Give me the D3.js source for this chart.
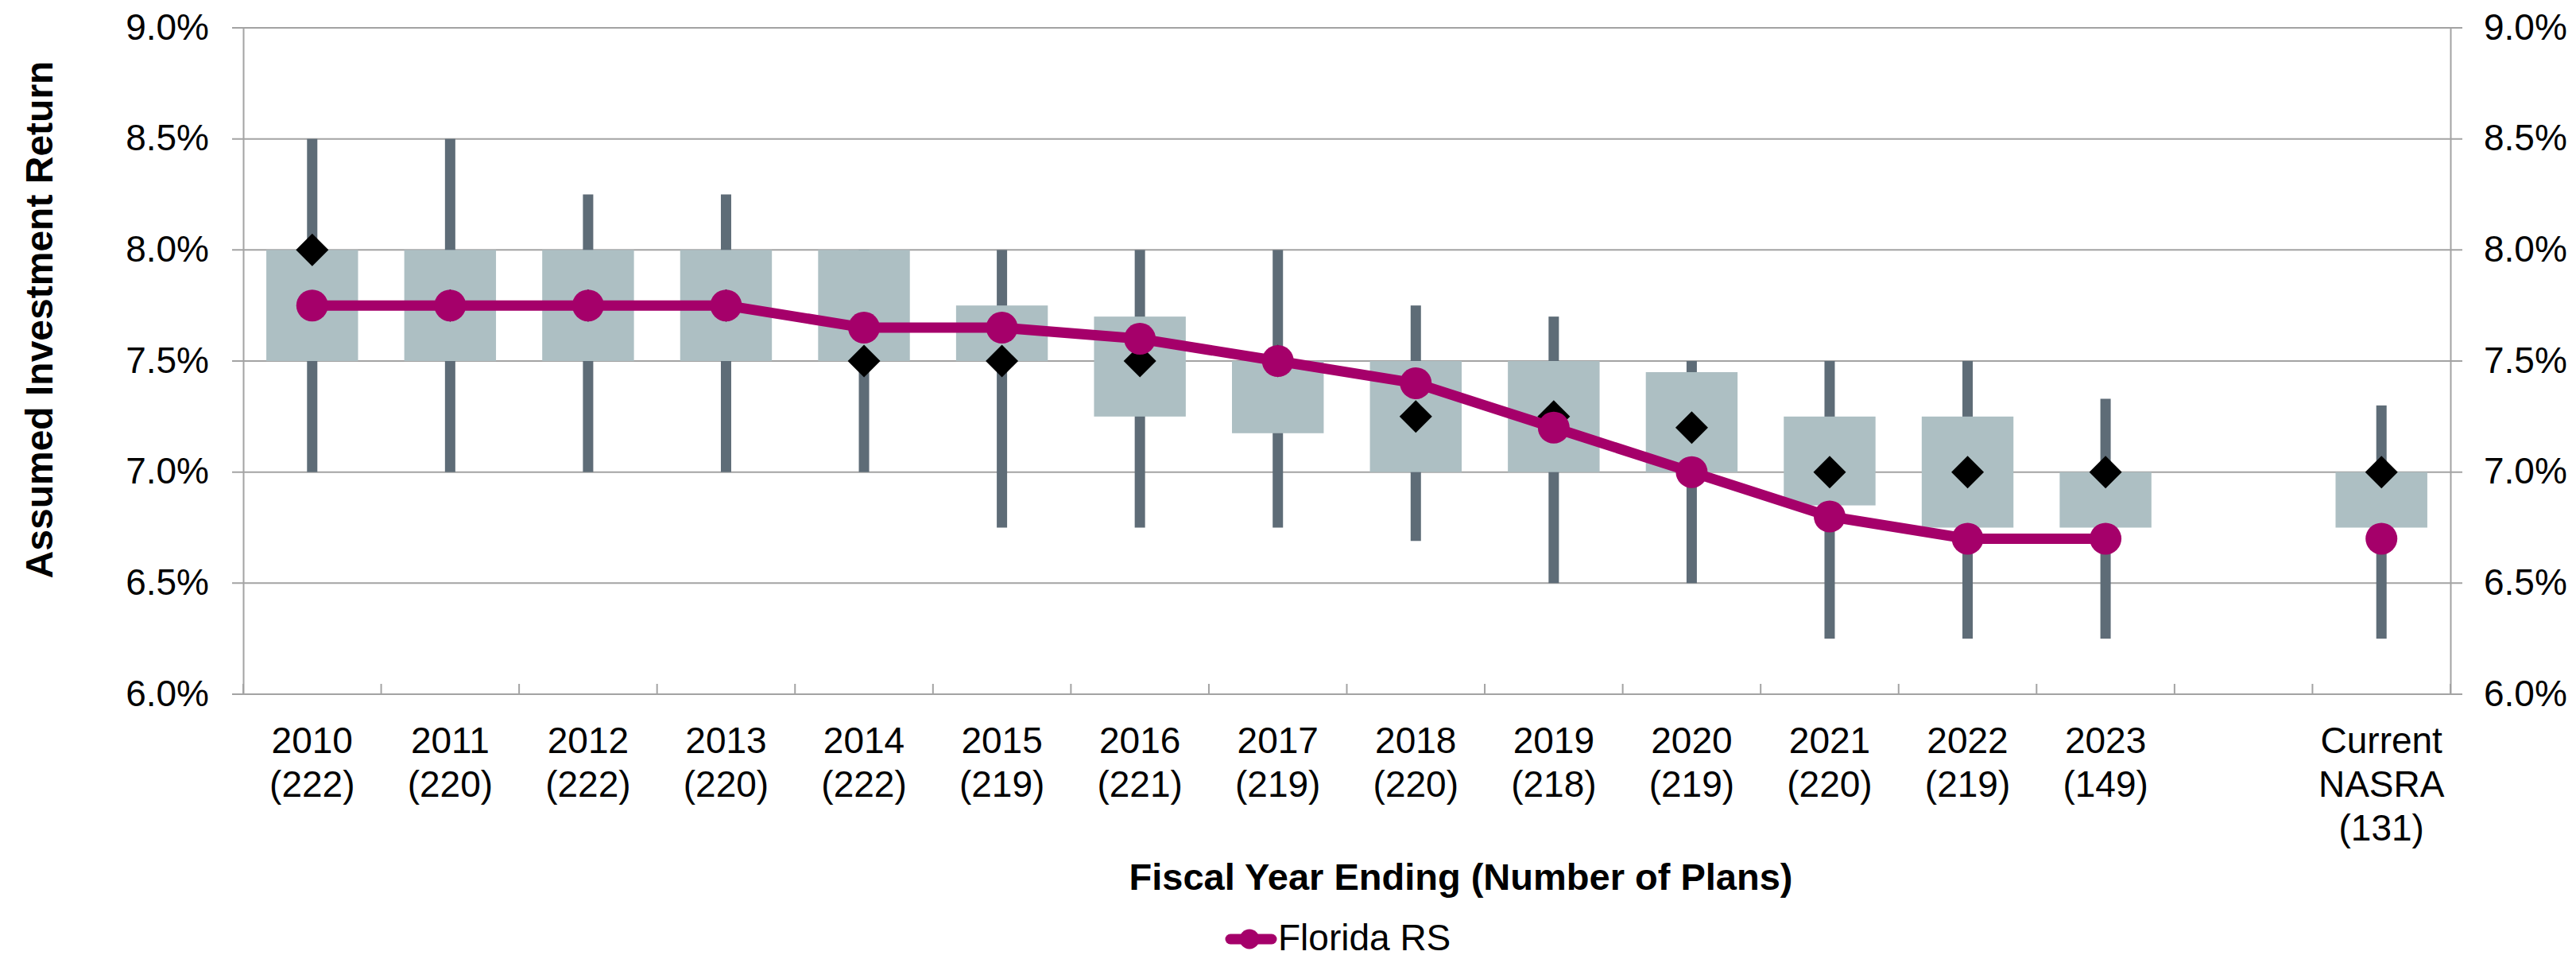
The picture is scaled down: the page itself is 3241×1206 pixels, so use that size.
<!DOCTYPE html>
<html>
<head>
<meta charset="utf-8">
<script src="https://cdn.jsdelivr.net/npm/d3@7"></script>
<style>
  body { margin: 0; background: #fff; }
  svg { display: block; }
</style>
</head>
<body>
<svg id="chart"></svg>
<script>
// category labels (one array per line), blank slot keeps the gap before NASRA
var labelLine1 = ["2010", "2011", "2012", "2013", "2014", "2015", "2016", "2017",
                  "2018", "2019", "2020", "2021", "2022", "2023", "", "Current"];
var labelLine2 = ["(222)", "(220)", "(222)", "(220)", "(222)", "(219)", "(221)", "(219)",
                  "(220)", "(218)", "(219)", "(220)", "(219)", "(149)", "", "NASRA"];
var labelLine3 = ["", "", "", "", "", "", "", "", "", "", "", "", "", "", "", "(131)"];

// distribution of assumed returns (%)
var whiskerHigh = [8.5, 8.5, 8.25, 8.25, 8.0, 8.0, 8.0, 8.0, 7.75, 7.7, 7.5, 7.5, 7.5, 7.33, null, 7.3];
var boxHigh     = [8.0, 8.0, 8.0, 8.0, 8.0, 7.75, 7.7, 7.5, 7.5, 7.5, 7.45, 7.25, 7.25, 7.0, null, 7.0];
var boxLow      = [7.5, 7.5, 7.5, 7.5, 7.5, 7.5, 7.25, 7.175, 7.0, 7.0, 7.0, 6.85, 6.75, 6.75, null, 6.75];
var whiskerLow  = [7.0, 7.0, 7.0, 7.0, 7.0, 6.75, 6.75, 6.75, 6.69, 6.5, 6.5, 6.25, 6.25, 6.25, null, 6.25];
var median      = [8.0, 7.75, 7.75, 7.75, 7.5, 7.5, 7.5, 7.5, 7.25, 7.25, 7.2, 7.0, 7.0, 7.0, null, 7.0];

// Florida RS assumption (%)
var florida = [7.75, 7.75, 7.75, 7.75, 7.65, 7.65, 7.6, 7.5, 7.4, 7.2, 7.0, 6.8, 6.7, 6.7, null, 6.7];

var yTicks = [6.0, 6.5, 7.0, 7.5, 8.0, 8.5, 9.0];

var width = 3241;
var height = 1206;
var plotLeft = 306, plotRight = 3083, plotTop = 35, plotBottom = 873;

var font = "'Liberation Sans', Arial, sans-serif";
var gridColor = "#a3a3a3";

var svg = d3.select("#chart")
  .attr("width", width)
  .attr("height", height)
  .style("font-family", font);

svg.append("rect").attr("width", width).attr("height", height).attr("fill", "#fff");

var idx = d3.range(labelLine1.length);

var x = d3.scaleBand()
  .domain(idx)
  .range([plotLeft, plotRight]);

var y = d3.scaleLinear()
  .domain([6, 9])
  .range([plotBottom, plotTop]);

var cx = function(i) { return x(i) + x.bandwidth() / 2; };
var boxW = x.bandwidth() * 0.665;
var pct = d3.format(".1f");

//gridlines
svg.append("g")
  .selectAll("line")
  .data(yTicks)
  .join("line")
    .attr("x1", plotLeft - 14)
    .attr("x2", plotRight + 15)
    .attr("y1", function(d) { return y(d); })
    .attr("y2", function(d) { return y(d); })
    .attr("stroke", gridColor)
    .attr("stroke-width", 2);

//left axis
var yLeft = svg.append("g")
  .attr("transform", "translate(" + plotLeft + ",0)")
  .call(d3.axisLeft(y).tickValues(yTicks).tickSize(0).tickPadding(43)
        .tickFormat(function(d) { return pct(d) + "%"; }));

//right axis
var yRight = svg.append("g")
  .attr("transform", "translate(" + plotRight + ",0)")
  .call(d3.axisRight(y).tickValues(yTicks).tickSize(0).tickPadding(42)
        .tickFormat(function(d) { return pct(d) + "%"; }));

[yLeft, yRight].forEach(function(g) {
  g.select(".domain").attr("stroke", gridColor).attr("stroke-width", 2);
  g.selectAll("text")
    .attr("font-size", "46px")
    .attr("font-family", font)
    .attr("fill", "#000")
    .attr("dy", "0.31em");
});

//x axis ticks at band edges, pointing up
var edges = idx.map(function(i) { return x(i); }).concat([plotRight]);
svg.append("g")
  .selectAll("line")
  .data(edges)
  .join("line")
    .attr("x1", function(d) { return d; })
    .attr("x2", function(d) { return d; })
    .attr("y1", plotBottom)
    .attr("y2", plotBottom - 13)
    .attr("stroke", gridColor)
    .attr("stroke-width", 2);

//x labels
var xLabels = svg.append("g");
idx.forEach(function(i) {
  [labelLine1[i], labelLine2[i], labelLine3[i]].forEach(function(t, k) {
    if (!t) return;
    xLabels.append("text")
      .text(t)
      .attr("x", cx(i))
      .attr("y", plotBottom + 74 + k * 55)
      .attr("text-anchor", "middle")
      .attr("font-size", "46px");
  });
});

var has = idx.filter(function(i) { return boxHigh[i] != null; });

//whiskers
svg.append("g")
  .selectAll("rect")
  .data(has)
  .join("rect")
    .attr("x", function(i) { return cx(i) - 6.5; })
    .attr("width", 13)
    .attr("y", function(i) { return y(whiskerHigh[i]); })
    .attr("height", function(i) { return y(whiskerLow[i]) - y(whiskerHigh[i]); })
    .attr("fill", "#5e6c77");

//boxes
svg.append("g")
  .selectAll("rect")
  .data(has)
  .join("rect")
    .attr("x", function(i) { return cx(i) - boxW / 2; })
    .attr("width", boxW)
    .attr("y", function(i) { return y(boxHigh[i]); })
    .attr("height", function(i) { return y(boxLow[i]) - y(boxHigh[i]); })
    .attr("fill", "#adbfc3");

//median diamonds
svg.append("g")
  .selectAll("path")
  .data(has)
  .join("path")
    .attr("d", function(i) {
      var px = cx(i), py = y(median[i]), r = 20.5;
      return "M" + px + "," + (py - r) + "L" + (px + r) + "," + py +
             "L" + px + "," + (py + r) + "L" + (px - r) + "," + py + "Z";
    })
    .attr("fill", "#000");

//Florida RS line
var line = d3.line()
  .defined(function(i) { return florida[i] != null && i < 14; })
  .x(function(i) { return cx(i); })
  .y(function(i) { return y(florida[i]); });

svg.append("path")
  .datum(idx)
  .attr("d", line)
  .attr("fill", "none")
  .attr("stroke", "#a5006a")
  .attr("stroke-width", 13)
  .attr("stroke-linejoin", "round");

svg.append("g")
  .selectAll("circle")
  .data(has)
  .join("circle")
    .attr("cx", function(i) { return cx(i); })
    .attr("cy", function(i) { return y(florida[i]); })
    .attr("r", 20)
    .attr("fill", "#a5006a");

//axis titles
svg.append("text")
  .text("Assumed Investment Return")
  .attr("transform", "translate(66,402) rotate(-90)")
  .attr("text-anchor", "middle")
  .attr("font-size", "48px")
  .attr("font-weight", "bold");

svg.append("text")
  .text("Fiscal Year Ending (Number of Plans)")
  .attr("x", 1838)
  .attr("y", 1119)
  .attr("text-anchor", "middle")
  .attr("font-size", "47px")
  .attr("font-weight", "bold");

//legend
var legend = svg.append("g");
legend.append("line")
  .attr("x1", 1548).attr("x2", 1600)
  .attr("y1", 1181).attr("y2", 1181)
  .attr("stroke", "#a5006a")
  .attr("stroke-width", 13)
  .attr("stroke-linecap", "round");
legend.append("circle")
  .attr("cx", 1572).attr("cy", 1181).attr("r", 12.5)
  .attr("fill", "#a5006a");
legend.append("text")
  .text("Florida RS")
  .attr("x", 1608)
  .attr("y", 1195)
  .attr("font-size", "46px");
</script>
</body>
</html>
